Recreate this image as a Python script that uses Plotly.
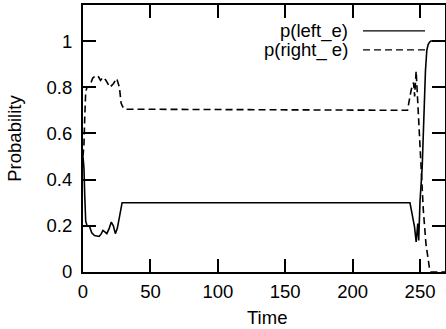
import plotly.graph_objects as go

# ---- data ----
time_left = [0, 0.7, 1.3, 2, 3, 4, 5, 6.5, 8.5, 10, 12, 13.5, 14.8, 16, 17.7, 19.5, 21, 22.5,
             24, 25.5, 27, 28, 29, 242.5, 243.5, 244.6, 245.9, 247.1, 248.3, 249, 250, 251.6,
             252.8, 254, 255, 256, 257, 258, 268.5]
p_left = [0.5, 0.45, 0.33, 0.22, 0.2, 0.2, 0.195, 0.17, 0.158, 0.155, 0.154, 0.165, 0.18, 0.175,
          0.166, 0.19, 0.216, 0.2, 0.166, 0.19, 0.238, 0.28, 0.3, 0.3, 0.27, 0.22, 0.195, 0.13,
          0.21, 0.137, 0.31, 0.455, 0.67, 0.87, 0.96, 0.985, 0.995, 1.0, 1.0]

time_right = [0, 0.7, 1.3, 2, 3, 4.7, 7.2, 8.5, 11, 13, 15, 17, 20, 22.5, 25, 27, 28.3, 29.5, 31,
              240.7, 242.2, 243.5, 245.2, 246, 247.1, 247.8, 248.7, 250, 250.7, 252.4, 254.4,
              256.9, 258, 268.5]
p_right = [0.5, 0.55, 0.67, 0.78, 0.8, 0.80, 0.84, 0.845, 0.85, 0.83, 0.843, 0.83, 0.80, 0.815,
           0.838, 0.80, 0.73, 0.715, 0.705, 0.7, 0.75, 0.79, 0.82, 0.76, 0.87, 0.79, 0.74, 0.56,
           0.455, 0.27, 0.12, 0.02, 0.0, 0.0]

x_ticks = [0, 50, 100, 150, 200, 250]
y_ticks = [0, 0.2, 0.4, 0.6, 0.8, 1]
y_tick_labels = ["0", "0.2", "0.4", "0.6", "0.8", "1"]
legend_labels = ["p(left_e)", "p(right_ e)"]
x_title = "Time"
y_title = "Probability"

FONT = "Liberation Sans, Arial, Helvetica, sans-serif"
FS = 18.5

fig = go.Figure()
fig.add_trace(go.Scatter(x=time_left, y=p_left, mode="lines", name=legend_labels[0],
                         line=dict(color="black", width=1.6), showlegend=False))
fig.add_trace(go.Scatter(x=time_right, y=p_right, mode="lines", name=legend_labels[1],
                         line=dict(color="black", width=1.6, dash="7px,4px"), showlegend=False))

# manual legend: text on the left, line sample on the right
leg_rows = [0.903, 0.832]
for label, yy, dash in zip(legend_labels, leg_rows, ["solid", "7px,4px"]):
    fig.add_annotation(x=0.7376, y=yy, xref="paper", yref="paper", text=label,
                       showarrow=False, xanchor="right", yanchor="middle",
                       font=dict(family=FONT, size=FS, color="black"))
    fig.add_shape(type="line", xref="paper", yref="paper", x0=0.7735, x1=0.9448, y0=yy, y1=yy,
                  line=dict(color="black", width=1.4, dash=dash))

# axis titles
fig.add_annotation(x=0.508, y=-0.172, xref="paper", yref="paper", text=x_title,
                   showarrow=False, xanchor="center", yanchor="middle",
                   font=dict(family=FONT, size=FS, color="black"))
fig.add_annotation(x=-0.19, y=0.5, xref="paper", yref="paper", text=y_title, textangle=-90,
                   showarrow=False, xanchor="center", yanchor="middle",
                   font=dict(family=FONT, size=FS, color="black"))

fig.update_layout(
    template="none",
    width=446, height=329,
    margin=dict(l=83, r=1, t=5, b=57, pad=0),
    paper_bgcolor="white", plot_bgcolor="white",
    font=dict(family=FONT, size=FS, color="black"),
    showlegend=False,
)
fig.update_xaxes(range=[0, 268.5], tickvals=x_ticks, ticks="inside", ticklen=13, tickwidth=2,
                 tickcolor="black", showline=True, linewidth=2, linecolor="black", mirror="ticks",
                 showgrid=False, zeroline=False, automargin=False, tickfont=dict(size=FS),
                 ticklabelstandoff=2)
fig.update_yaxes(range=[0, 1.156], tickvals=y_ticks, ticktext=y_tick_labels, ticks="inside",
                 ticklen=13, tickwidth=2, tickcolor="black", showline=True, linewidth=2,
                 linecolor="black", mirror="ticks", showgrid=False, zeroline=False,
                 automargin=False, tickfont=dict(size=FS), ticklabelstandoff=5)

fig.write_html("out.html", config={"displayModeBar": False},
               post_script="document.body.style.margin='0';document.body.style.overflow='hidden';")
